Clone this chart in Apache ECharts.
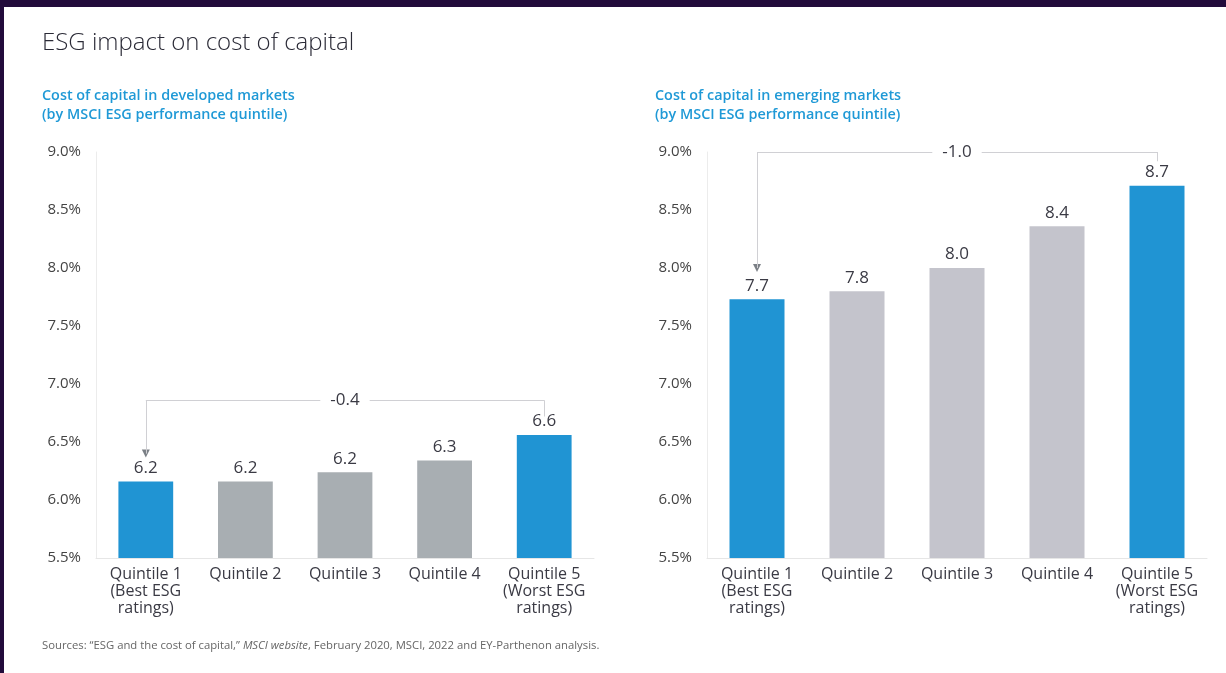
<!DOCTYPE html>
<html>
<head>
<meta charset="utf-8">
<script src="https://cdn.jsdelivr.net/npm/echarts@6/dist/echarts.min.js"></script>
<style>
html,body{margin:0;padding:0;background:#220b3b;}
#c{width:1226px;height:673px;}
</style>
</head>
<body>
<div id="c"></div>
<script>
// ---- data ----
const categories = ['Quintile 1\n(Best ESG\nratings)', 'Quintile 2', 'Quintile 3', 'Quintile 4', 'Quintile 5\n(Worst ESG\nratings)'];
const developed = [6.16, 6.16, 6.24, 6.34, 6.56];
const emerging = [7.73, 7.80, 8.00, 8.36, 8.71];
const yTicks = { min: 5.5, max: 9.0, step: 0.5 };
const devDiff = { label: '-0.4', level: 6.86, arrowTip: 6.40, endTop: 6.72 };
const emDiff = { label: '-1.0', level: 9.0, arrowTip: 8.0, endTop: 8.92 };

const title = 'ESG impact on cost of capital';
const subLeft = 'Cost of capital in developed markets\n(by MSCI ESG performance quintile)';
const subRight = 'Cost of capital in emerging markets\n(by MSCI ESG performance quintile)';

// ---- styles ----
const FONT = '"Open Sans", "Noto Sans", sans-serif';
const BLUE = '#2094d3';
const GREY_DEV = '#a8aeb2';
const GREY_EM = '#c4c4cc';
const TXT = '#3a3a44';
const LINE = '#d0d0d4';
const ARROW = '#5a6068';

const chart = echarts.init(document.getElementById('c'), null, { renderer: 'canvas' });

function yAxis(gi) {
  return {
    type: 'value', gridIndex: gi, min: yTicks.min, max: yTicks.max, interval: yTicks.step,
    axisLine: { show: true, lineStyle: { color: '#ececec' } },
    axisTick: { show: false },
    splitLine: { show: false },
    axisLabel: { color: '#444', fontFamily: FONT, fontSize: 15, margin: 15,
      formatter: v => v.toFixed(1) + '%' }
  };
}
function xAxis(gi) {
  return {
    type: 'category', gridIndex: gi, data: categories,
    axisLine: { show: true, lineStyle: { color: '#e6e6e6' } },
    axisTick: { show: false },
    axisLabel: { color: TXT, fontFamily: FONT, fontSize: 16, lineHeight: 17, margin: 8, interval: 0 }
  };
}
function barSeries(gi, data, grey) {
  return {
    type: 'bar', xAxisIndex: gi, yAxisIndex: gi, data: data, barWidth: '55%',
    itemStyle: { color: p => (p.dataIndex === 0 || p.dataIndex === data.length - 1) ? BLUE : grey },
    label: { show: true, position: 'top', distance: 5, color: TXT, fontFamily: FONT, fontSize: 17,
      formatter: p => p.value.toFixed(1) },
    animation: false, silent: true
  };
}
function bracket(gi, diff) {
  const last = categories.length - 1;
  return [
    {
      type: 'line', xAxisIndex: gi, yAxisIndex: gi, data: [], silent: true, animation: false,
      markLine: {
        silent: true, animation: false, symbol: ['none', 'none'],
        lineStyle: { color: LINE, width: 1, type: 'solid' },
        label: { show: false },
        data: [
          [{ coord: [0, diff.level] }, { coord: [0, diff.arrowTip] }],
          [{ coord: [0, diff.level],
             label: { show: true, position: 'middle', distance: 0, verticalAlign: 'middle', formatter: diff.label, color: TXT,
               fontFamily: FONT, fontSize: 17, backgroundColor: '#fff', padding: [0, 10] } },
           { coord: [last, diff.level] }],
          [{ coord: [last, diff.level] }, { coord: [last, diff.endTop] }]
        ]
      }
    },
    {
      type: 'scatter', xAxisIndex: gi, yAxisIndex: gi, silent: true, animation: false,
      symbol: 'triangle', symbolRotate: 180, symbolSize: [8, 8], itemStyle: { color: ARROW },
      data: [[0, diff.arrowTip]]
    }
  ];
}

chart.setOption({
  backgroundColor: '#220b3b',
  graphic: [
    { type: 'rect', shape: { x: 4, y: 7, width: 1222, height: 666 }, style: { fill: '#ffffff' }, z: -10 },
    { type: 'text', left: 42, top: 31, style: { text: title, fill: '#2a2a36', font: '300 24px ' + FONT } },
    { type: 'text', left: 42, top: 86, style: { text: subLeft, fill: '#1f99d6', font: '600 14.4px ' + FONT, lineHeight: 19 } },
    { type: 'text', left: 655, top: 86, style: { text: subRight, fill: '#1f99d6', font: '600 14.4px ' + FONT, lineHeight: 19 } },
    { type: 'text', left: 42, top: 640, style: {
        text: '{n|Sources: \u201CESG and the cost of capital,\u201D }{i|MSCI website}{n|, February 2020, MSCI, 2022 and EY-Parthenon analysis.}',
        rich: {
          n: { fill: '#666', font: '11.3px ' + FONT },
          i: { fill: '#666', font: 'italic 11.3px ' + FONT }
        } } }
  ],
  grid: [
    { left: 96, right: 632, top: 152, bottom: 115 },
    { left: 707, right: 19, top: 152, bottom: 115 }
  ],
  xAxis: [xAxis(0), xAxis(1)],
  yAxis: [yAxis(0), yAxis(1)],
  series: [
    barSeries(0, developed, GREY_DEV),
    barSeries(1, emerging, GREY_EM),
    ...bracket(0, devDiff),
    ...bracket(1, emDiff)
  ]
});
</script>
</body>
</html>
